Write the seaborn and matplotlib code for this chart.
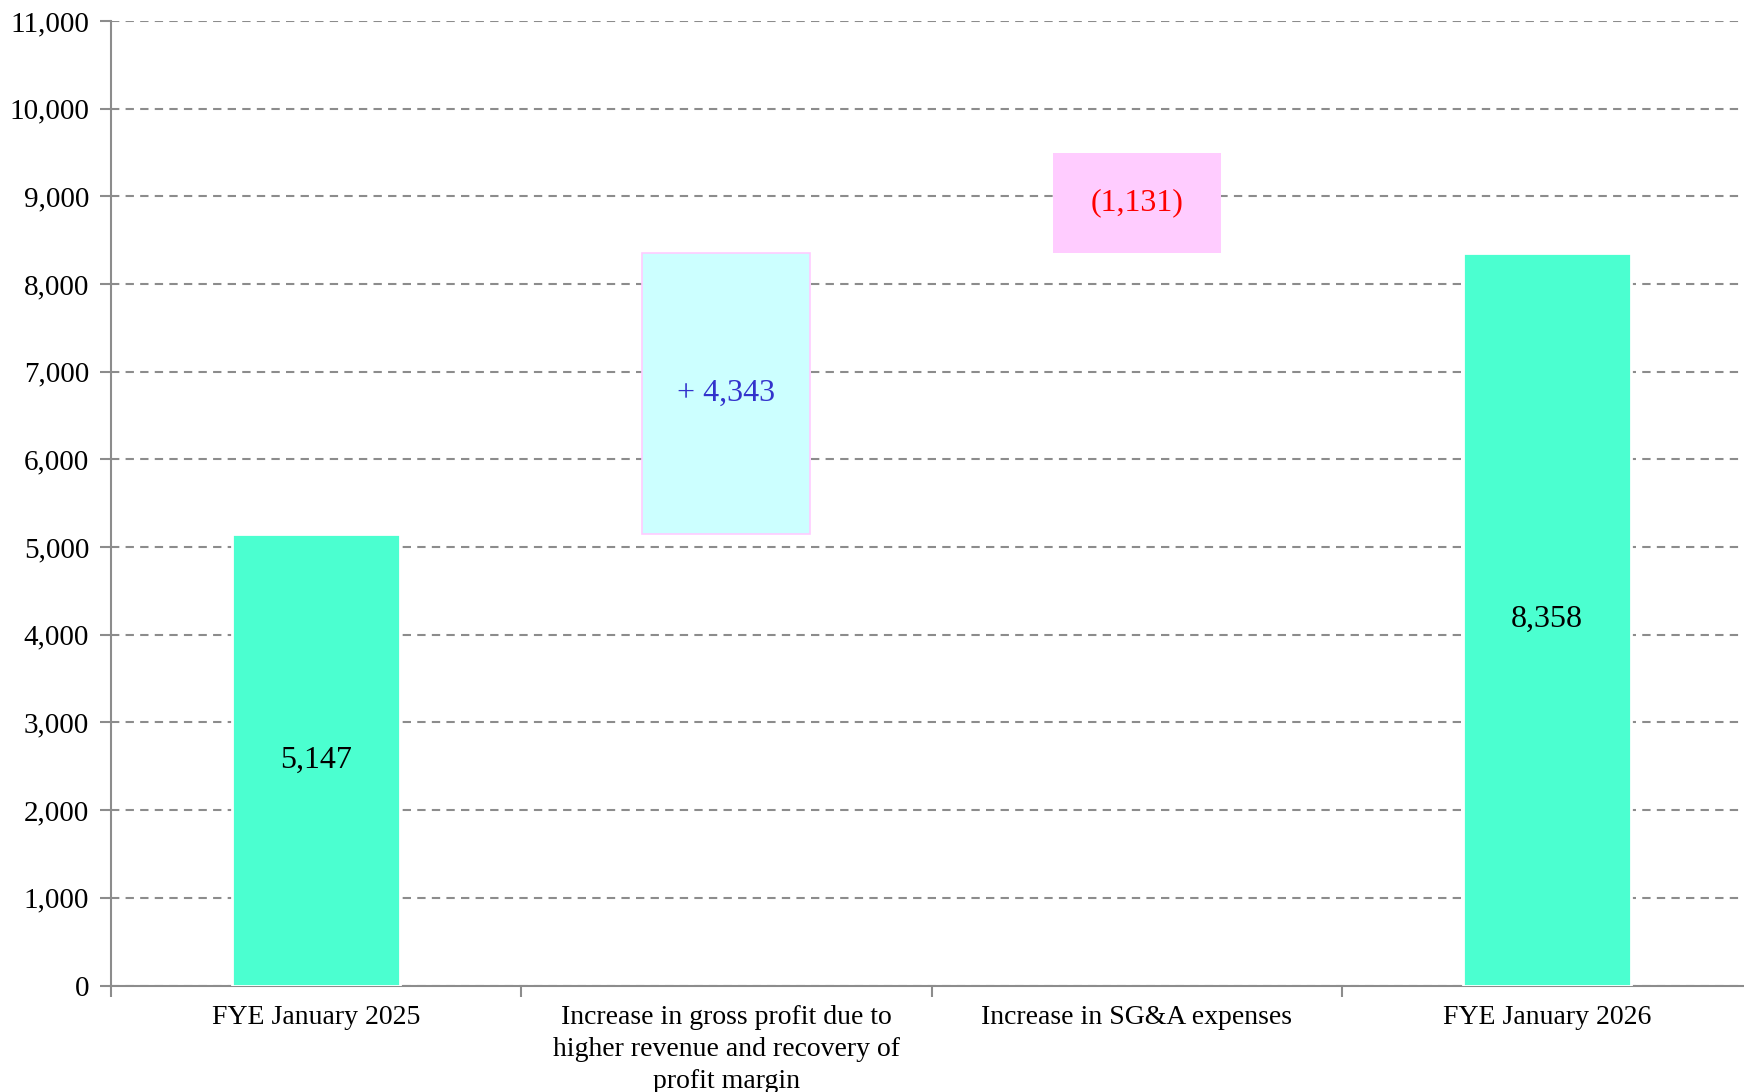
import matplotlib
matplotlib.use("Agg")
import matplotlib.pyplot as plt
import seaborn as sns
import pandas as pd
from matplotlib.ticker import FuncFormatter, FixedLocator, MultipleLocator

categories = [
    "FYE January 2025",
    "Increase in gross profit due to\nhigher revenue and recovery of\nprofit margin",
    "Increase in SG&A expenses",
    "FYE January 2026",
]
bar_bottoms = [0, 5147, 8358, 0]
bar_tops = [5147, 8358, 9489, 8358]
bar_labels = ["5,147", "+ 4,343", "(1,131)", "8,358"]

fill_colors = ["#4BFFD0", "#CCFFFF", "#FFCCFF", "#4BFFD0"]
edge_colors = ["white", "#FFCCFF", "#FFCCFF", "white"]
edge_widths = [2.0, 1.2, 0.0, 2.0]
label_colors = ["black", "#3333CC", "#FF0000", "black"]

sns.set_theme(style="white")
plt.rcParams["font.family"] = ["Liberation Serif", "DejaVu Serif"]

fig = plt.figure(figsize=(17.44, 10.92), dpi=100)
ax = fig.add_axes([110.7 / 1744, 1 - 985.5 / 1092, 1641.6 / 1744, (985.5 - 21) / 1092])

for i, cat in enumerate(categories):
    df_i = pd.DataFrame({"cat": [cat], "height": [bar_tops[i] - bar_bottoms[i]]})
    sns.barplot(data=df_i, x="cat", y="height", order=categories, color=fill_colors[i],
                bottom=bar_bottoms[i], width=0.41, ax=ax, saturation=1.0,
                edgecolor=edge_colors[i], linewidth=edge_widths[i], zorder=3)

for i, (b, t, lab, c) in enumerate(zip(bar_bottoms, bar_tops, bar_labels, label_colors)):
    ax.text(i, (b + t) / 2, lab, ha="center", va="center", fontsize=23, color=c, zorder=5)

ax.set_ylim(0, 11000)
ax.set_xlim(-0.5, 3.5)
ax.yaxis.set_major_locator(MultipleLocator(1000))
ax.yaxis.set_major_formatter(FuncFormatter(lambda v, p: f"{int(v):,}"))
ax.yaxis.grid(True, color="#8C8C8C", linestyle=(0, (4, 3)), linewidth=1.5, zorder=1)
ax.xaxis.grid(False)
ax.set_axisbelow(True)

ax.xaxis.set_major_locator(FixedLocator([-0.5, 0.5, 1.5, 2.5, 3.5]))
ax.xaxis.set_major_formatter(FuncFormatter(lambda v, p: ""))
ax.xaxis.set_minor_locator(FixedLocator([0, 1, 2, 3]))
ax.set_xticklabels(categories, minor=True, linespacing=1.37)
ax.tick_params(axis="x", which="major", direction="out", length=8, width=1.5, color="#8C8C8C", bottom=True)
ax.tick_params(axis="x", which="minor", length=0, pad=14, labelsize=20, labelcolor="black")
ax.tick_params(axis="y", direction="out", length=8, width=1.5, color="#8C8C8C", pad=7.5,
               labelsize=21, labelcolor="black", left=True)

for s in ["top", "right"]:
    ax.spines[s].set_visible(False)
for s in ["left", "bottom"]:
    ax.spines[s].set_color("#8C8C8C")
    ax.spines[s].set_linewidth(1.5)

ax.set_xlabel("")
ax.set_ylabel("")
fig.patch.set_facecolor("white")
fig.savefig("out.png", dpi=100)
